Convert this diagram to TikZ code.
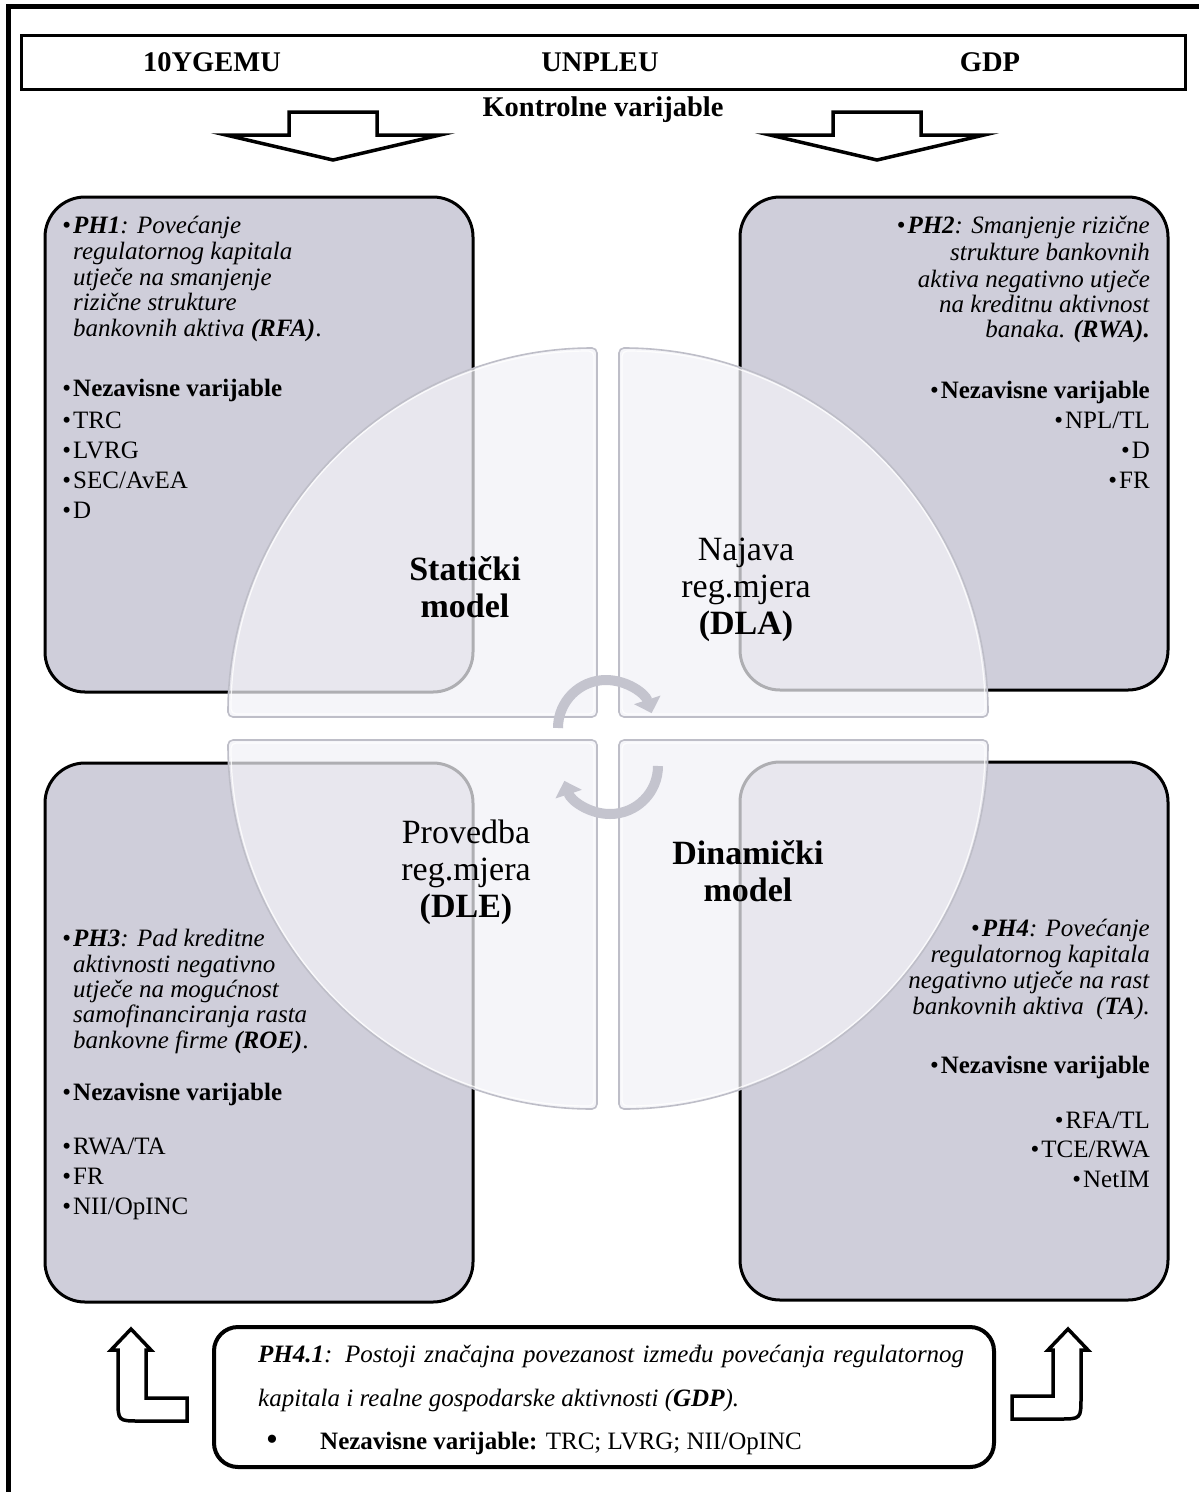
\documentclass[tikz,border=0pt]{standalone}
\usepackage{fontspec}
\setmainfont{Liberation Serif}
\usetikzlibrary{arrows.meta}
\definecolor{boxgray}{RGB}{207,206,218}
\definecolor{quadfill}{RGB}{242,242,247}
\definecolor{quadline}{RGB}{190,190,200}
\definecolor{cyc}{RGB}{196,196,206}
\begin{document}
\begin{tikzpicture}[x=1pt,y=-1pt,
  frame/.style={line width=4.5pt},
  topbox/.style={line width=3pt},
  hdr/.style={inner sep=0pt,font=\fontsize{28.5}{30}\selectfont\bfseries},
  bigarrow/.style={draw=black,fill=white,line width=3.5pt,line join=miter},
  hbox/.style={draw=black,fill=boxgray,line width=3pt,rounded corners=40pt},
  quad/.style={draw=quadline,line width=1.6pt,fill=quadfill,fill opacity=0.72,rounded corners=5pt},
  quadhi/.style={draw=white,line width=1.2pt,draw opacity=0.8,rounded corners=5pt},
  txt/.style={inner sep=0pt,font=\fontsize{25}{26}\selectfont},
  lbl/.style={inner sep=0pt,align=center,font=\fontsize{34}{37}\selectfont},
  cycarrow/.style={draw=cyc,line width=10pt,-{Triangle[length=14pt,width=27pt]}},
  phbox/.style={draw=black,fill=white,line width=4pt,rounded corners=24pt},
  uparrow/.style={draw=black,fill=white,line width=3.5pt,line join=miter}
]
\useasboundingbox (0,0) rectangle (1199,1492);
\fill[white] (0,0) rectangle (1199,1492);
% outer frame (top and left only)
\draw[frame] (8.5,1492) -- (8.5,6.5) -- (1199,6.5);
% control variables box
\draw[topbox] (21.5,35.5) rectangle (1185.5,89);
\node[hdr] (v1) at (212,62) {10YGEMU};
\node[hdr] (v2) at (600,62) {UNPLEU};
\node[hdr] (v3) at (990,62) {GDP};
\node[hdr] (kv) at (603,110) {Kontrolne varijable};
% down arrows
\draw[bigarrow] (289,112) -- (377,112) -- (377,135) -- (440,135) -- (333,160) -- (226,135) -- (289,135) -- cycle;
\draw[bigarrow] (833,112) -- (921,112) -- (921,135) -- (984,135) -- (877,160) -- (770,135) -- (833,135) -- cycle;
% hypothesis boxes
\draw[hbox] (45,197) rectangle (473,692);
\draw[hbox] (740,197) rectangle (1168,690);
\draw[hbox] (45,763) rectangle (473,1302);
\draw[hbox] (740,762) rectangle (1168,1300);
% quadrants
\path[quad] (597,717) -- (228,717) arc[start angle=180,end angle=90,radius=369pt] -- cycle;
\path[quad] (619,717) -- (619,348) arc[start angle=90,end angle=0,radius=369pt] -- cycle;
\path[quad] (597,740) -- (228,740) arc[start angle=180,end angle=270,radius=369pt] -- cycle;
\path[quad] (619,740) -- (988,740) arc[start angle=0,end angle=-90,radius=369pt] -- cycle;
\path[quadhi] (594,714) -- (231,714) arc[start angle=180,end angle=90,radius=363pt] -- cycle;
\path[quadhi] (622,714) -- (622,351) arc[start angle=90,end angle=0,radius=363pt] -- cycle;
\path[quadhi] (594,743) -- (231,743) arc[start angle=180,end angle=270,radius=363pt] -- cycle;
\path[quadhi] (622,743) -- (985,743) arc[start angle=0,end angle=-90,radius=363pt] -- cycle;
% cycle arrows
\draw[cycarrow] (558,728) arc[start angle=180,end angle=18,radius=48pt];
\draw[cycarrow] (658,766) arc[start angle=0,end angle=-162,radius=48pt];
% quadrant labels
\node[lbl] (q1) at (465,587) {\bfseries Statički\\\bfseries model};
\node[lbl] (q2) at (746,590) {Najava\\reg.mjera\\\bfseries (DLA)};
\node[lbl] (q3) at (466,872) {Provedba\\reg.mjera\\\bfseries (DLE)};
\node[lbl] (q4) at (748,871) {\bfseries Dinamički\\\bfseries model};
% TL text
\node[txt,anchor=base west] (tl1) at (73,233) {\llap{\textbullet\hspace{2pt}}\textit{\textbf{PH1}: Povećanje}};
\node[txt,anchor=base west] (tl2) at (73,259) {\textit{regulatornog kapitala}};
\node[txt,anchor=base west] (tl3) at (73,285) {\textit{utječe na smanjenje}};
\node[txt,anchor=base west] (tl4) at (73,310) {\textit{rizične strukture}};
\node[txt,anchor=base west] (tl5) at (73,336) {\textit{bankovnih aktiva \textbf{(RFA)}}.};
\node[txt,anchor=base west] (tl6) at (73,396) {\llap{\textbullet\hspace{2pt}}\textbf{Nezavisne varijable}};
\node[txt,anchor=base west] (tl7) at (73,428) {\llap{\textbullet\hspace{2pt}}TRC};
\node[txt,anchor=base west] (tl8) at (73,458) {\llap{\textbullet\hspace{2pt}}LVRG};
\node[txt,anchor=base west] (tl9) at (73,488) {\llap{\textbullet\hspace{2pt}}SEC/AvEA};
\node[txt,anchor=base west] (tl10) at (73,518) {\llap{\textbullet\hspace{2pt}}D};
% TR text
\node[txt,anchor=base east] (tr1) at (1150,233) {\textbullet\hspace{2pt}\textit{\textbf{PH2}: Smanjenje rizične}};
\node[txt,anchor=base east] (tr2) at (1150,260) {\textit{strukture bankovnih}};
\node[txt,anchor=base east] (tr3) at (1150,287) {\textit{aktiva negativno utječe}};
\node[txt,anchor=base east] (tr4) at (1150,312) {\textit{na kreditnu aktivnost}};
\node[txt,anchor=base east] (tr5) at (1150,337) {\textit{banaka. \textbf{(RWA).}}};
\node[txt,anchor=base east] (tr6) at (1150,398) {\textbullet\hspace{2pt}\textbf{Nezavisne varijable}};
\node[txt,anchor=base east] (tr7) at (1150,428) {\textbullet\hspace{2pt}NPL/TL};
\node[txt,anchor=base east] (tr8) at (1150,458) {\textbullet\hspace{2pt}D};
\node[txt,anchor=base east] (tr9) at (1150,488) {\textbullet\hspace{2pt}FR};
% BL text
\node[txt,anchor=base west] (bl1) at (73,946) {\llap{\textbullet\hspace{2pt}}\textit{\textbf{PH3}: Pad kreditne}};
\node[txt,anchor=base west] (bl2) at (73,972) {\textit{aktivnosti negativno}};
\node[txt,anchor=base west] (bl3) at (73,997) {\textit{utječe na mogućnost}};
\node[txt,anchor=base west] (bl4) at (73,1022) {\textit{samofinanciranja rasta}};
\node[txt,anchor=base west] (bl5) at (73,1048) {\textit{bankovne firme \textbf{(ROE)}}.};
\node[txt,anchor=base west] (bl6) at (73,1100) {\llap{\textbullet\hspace{2pt}}\textbf{Nezavisne varijable}};
\node[txt,anchor=base west] (bl7) at (73,1154) {\llap{\textbullet\hspace{2pt}}RWA/TA};
\node[txt,anchor=base west] (bl8) at (73,1184) {\llap{\textbullet\hspace{2pt}}FR};
\node[txt,anchor=base west] (bl9) at (73,1214) {\llap{\textbullet\hspace{2pt}}NII/OpINC};
% BR text
\node[txt,anchor=base east] (br1) at (1150,936) {\textbullet\hspace{2pt}\textit{\textbf{PH4}: Povećanje}};
\node[txt,anchor=base east] (br2) at (1150,962) {\textit{regulatornog kapitala}};
\node[txt,anchor=base east] (br3) at (1150,988) {\textit{negativno utječe na rast}};
\node[txt,anchor=base east] (br4) at (1150,1014) {\textit{bankovnih aktiva\ \ (\textbf{TA}).}};
\node[txt,anchor=base east] (br5) at (1150,1073) {\textbullet\hspace{2pt}\textbf{Nezavisne varijable}};
\node[txt,anchor=base east] (br6) at (1150,1128) {\textbullet\hspace{2pt}RFA/TL};
\node[txt,anchor=base east] (br7) at (1150,1157) {\textbullet\hspace{2pt}TCE/RWA};
\node[txt,anchor=base east] (br8) at (1150,1187) {\textbullet\hspace{2pt}NetIM};
% PH4.1 box
\draw[phbox] (214,1327) rectangle (994,1467);
\node[txt,anchor=base west] (p1) at (258,1362) {\makebox[706pt][s]{\textit{\textbf{PH4.1}: Postoji značajna povezanost između povećanja regulatornog}}};
\node[txt,anchor=base west] (p2) at (258,1406) {\textit{kapitala i realne gospodarske aktivnosti (\textbf{GDP}).}};
\node[txt,anchor=base west] (p3) at (266,1450) {\fontsize{34}{34}\selectfont\textbullet};
\node[txt,anchor=base west] (p4) at (320,1449) {\textbf{Nezavisne varijable:} TRC; LVRG; NII/OpINC};
% up arrows
\draw[uparrow] (131,1329) -- (151,1350) -- (146,1350) -- (146,1398) -- (187,1398) -- (187,1421) -- (140,1421) .. controls (118,1421) .. (118,1399) -- (118,1350) -- (111,1350) -- cycle;
\draw[uparrow] (1068,1329) -- (1088,1350) -- (1081,1350) -- (1081,1397) .. controls (1081,1419) .. (1059,1419) -- (1012,1419) -- (1012,1396) -- (1053,1396) -- (1053,1350) -- (1048,1350) -- cycle;
\end{tikzpicture}
\end{document}
